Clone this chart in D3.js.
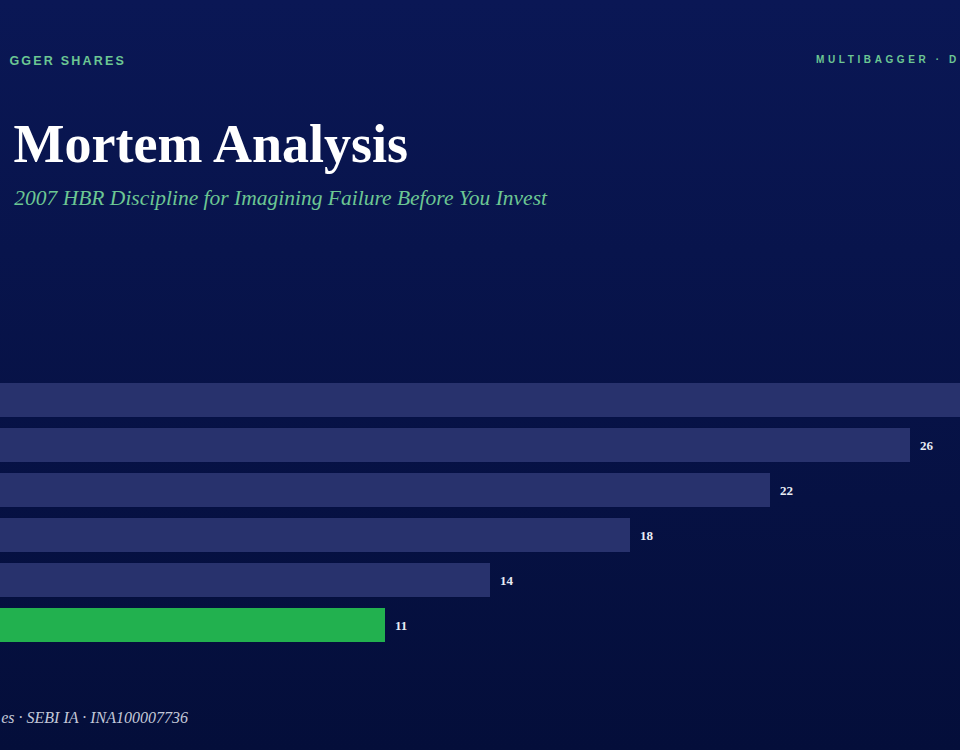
<!DOCTYPE html>
<html>
<head>
<meta charset="utf-8">
<script src="https://cdn.jsdelivr.net/npm/d3@7"></script>
<style>
	body { margin: 0; background: #06113f; overflow: hidden; }
</style>
</head>
<body>
<script>
var categories = ["A", "B", "C", "D", "E", "F"];
var values = [30, 26, 22, 18, 14, 11];
var highlight = "F";

var width = 960, height = 750;

var svg = d3.select("body").append("svg")
	.attr("width", width)
	.attr("height", height);

var grad = svg.append("defs").append("linearGradient")
	.attr("id", "bg").attr("x1", 0).attr("y1", 0).attr("x2", 0).attr("y2", 1);
grad.append("stop").attr("offset", "0%").attr("stop-color", "#0a1755");
grad.append("stop").attr("offset", "100%").attr("stop-color", "#040e3a");
svg.append("rect").attr("width", width).attr("height", height).attr("fill", "url(#bg)");

// header (reference is a crop of a wider page; only visible parts kept)
svg.append("text")
	.attr("x", 126).attr("y", 65)
	.attr("text-anchor", "end")
	.attr("font-family", "Liberation Sans, Arial, sans-serif")
	.attr("font-weight", "bold")
	.attr("font-size", 12.5)
	.attr("letter-spacing", "2.2px")
	.attr("fill", "#6cc793")
	.text("GGER SHARES");

svg.append("text")
	.attr("x", 816).attr("y", 63)
	.attr("font-family", "Liberation Sans, Arial, sans-serif")
	.attr("font-weight", "bold")
	.attr("font-size", 10)
	.attr("letter-spacing", "3.6px")
	.attr("fill", "#6cc793")
	.text("MULTIBAGGER · D");

svg.append("text")
	.attr("x", 408).attr("y", 162)
	.attr("text-anchor", "end")
	.attr("font-family", "Liberation Serif, Georgia, serif")
	.attr("font-weight", "bold")
	.attr("font-size", 54)
	.attr("fill", "#ffffff")
	.text("Mortem Analysis");

svg.append("text")
	.attr("x", 547).attr("y", 205)
	.attr("text-anchor", "end")
	.attr("font-family", "Liberation Serif, Georgia, serif")
	.attr("font-style", "italic")
	.attr("font-size", 21.5)
	.attr("fill", "#6cc793")
	.text("2007 HBR Discipline for Imagining Failure Before You Invest");

// bars
var x = d3.scaleLinear().domain([0, 26]).range([0, 910]);
var y = d3.scaleBand().domain(categories).range([383, 642]).paddingInner(0.244).paddingOuter(0);

svg.selectAll("rect.bar").data(categories).enter().append("rect")
	.attr("class", "bar")
	.attr("x", 0)
	.attr("y", function(d) { return y(d); })
	.attr("width", function(d, i) { return x(values[i]); })
	.attr("height", y.bandwidth())
	.attr("fill", function(d) { return d === highlight ? "#22b14f" : "#28326d"; });

svg.selectAll("text.val").data(categories).enter().append("text")
	.attr("class", "val")
	.attr("x", function(d, i) { return x(values[i]) + 10; })
	.attr("y", function(d) { return y(d) + y.bandwidth() / 2 + 5; })
	.attr("font-family", "Liberation Serif, Georgia, serif")
	.attr("font-weight", "bold")
	.attr("font-size", 13)
	.attr("fill", "#e8ecf5")
	.text(function(d, i) { return values[i]; });

// footer
svg.append("text")
	.attr("x", 188).attr("y", 723)
	.attr("text-anchor", "end")
	.attr("font-family", "Liberation Serif, Georgia, serif")
	.attr("font-style", "italic")
	.attr("font-size", 16)
	.attr("fill", "#c3c8d8")
	.text("es · SEBI IA · INA100007736");
</script>
</body>
</html>
